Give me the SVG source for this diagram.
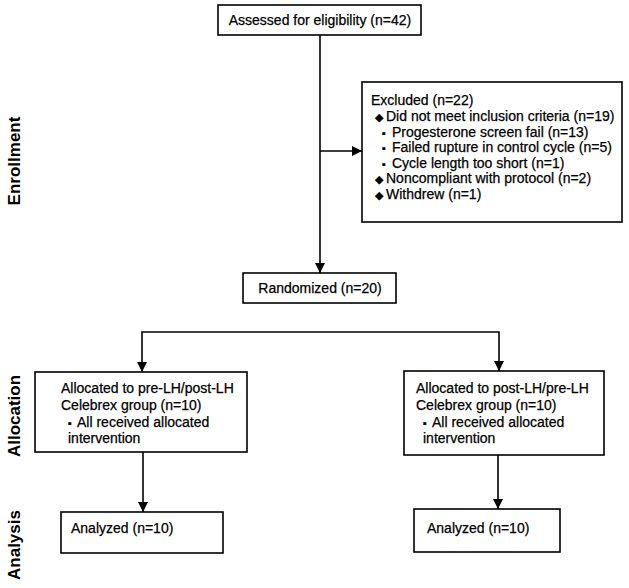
<svg xmlns="http://www.w3.org/2000/svg" width="629" height="588" viewBox="0 0 629 588">
<style>
.box{fill:#fff;stroke:#000;stroke-width:1.6}
.t{font-family:"Liberation Sans",Arial,sans-serif;font-size:14px;fill:#000;stroke:#000;stroke-width:0.25}
.lab{font-family:"Liberation Sans",Arial,sans-serif;font-size:17px;font-weight:bold;fill:#000}
.c{fill:none;stroke:#000;stroke-width:1.6}
.b{font-size:11px}
</style>
<defs>
<marker id="ar" markerUnits="userSpaceOnUse" markerWidth="10" markerHeight="12" refX="10" refY="5" orient="auto">
<path d="M0,0 L10,5 L0,10 Z" fill="#000"/>
</marker>
</defs>
<rect width="629" height="588" fill="#fff"/>
<g id="labels">
<text class="lab" transform="translate(20,161) rotate(-90)" text-anchor="middle">Enrollment</text>
<text class="lab" transform="translate(20,416) rotate(-90)" text-anchor="middle">Allocation</text>
<text class="lab" transform="translate(20,545) rotate(-90)" text-anchor="middle">Analysis</text>
</g>
<g id="connectors">
<path class="c" d="M320,35 V273" marker-end="url(#ar)"/>
<path class="c" d="M320,151 H362" marker-end="url(#ar)"/>
<path class="c" d="M320,332 H142 V372" marker-end="url(#ar)"/>
<path class="c" d="M320,332 H499 V371" marker-end="url(#ar)"/>
<path class="c" d="M143,452 V512" marker-end="url(#ar)"/>
<path class="c" d="M498,455 V509" marker-end="url(#ar)"/>
</g>
<g id="assessed">
<rect class="box" x="218" y="5" width="203" height="30"/>
<text class="t" x="320" y="25" text-anchor="middle">Assessed for eligibility (n=42)</text>
</g>
<g id="excluded">
<rect class="box" x="362" y="82" width="260" height="140"/>
<text class="t" x="371" y="105">Excluded (n=22)</text>
<text class="t" x="375" y="121"><tspan class="b">◆</tspan><tspan x="386">Did not meet inclusion criteria (n=19)</tspan></text>
<text class="t" x="382" y="136.5"><tspan class="b">▪</tspan><tspan x="392">Progesterone screen fail (n=13)</tspan></text>
<text class="t" x="382" y="152"><tspan class="b">▪</tspan><tspan x="392">Failed rupture in control cycle (n=5)</tspan></text>
<text class="t" x="382" y="167.5"><tspan class="b">▪</tspan><tspan x="392">Cycle length too short (n=1)</tspan></text>
<text class="t" x="375" y="183"><tspan class="b">◆</tspan><tspan x="386">Noncompliant with protocol (n=2)</tspan></text>
<text class="t" x="375" y="198.5"><tspan class="b">◆</tspan><tspan x="386">Withdrew (n=1)</tspan></text>
</g>
<g id="randomized">
<rect class="box" x="243" y="273" width="153" height="30"/>
<text class="t" x="320" y="293" text-anchor="middle">Randomized (n=20)</text>
</g>
<g id="alloc-left">
<rect class="box" x="35" y="372" width="212" height="80"/>
<text class="t" x="61" y="393">Allocated to pre-LH/post-LH</text>
<text class="t" x="61" y="410">Celebrex group (n=10)</text>
<text class="t" x="68" y="427"><tspan class="b">▪</tspan><tspan x="77">All received allocated</tspan></text>
<text class="t" x="68" y="443">intervention</text>
</g>
<g id="alloc-right">
<rect class="box" x="404" y="371" width="200" height="84"/>
<text class="t" x="416" y="393">Allocated to post-LH/pre-LH</text>
<text class="t" x="416" y="410">Celebrex group (n=10)</text>
<text class="t" x="423" y="427"><tspan class="b">▪</tspan><tspan x="432">All received allocated</tspan></text>
<text class="t" x="423" y="443">intervention</text>
</g>
<g id="analyzed-left">
<rect class="box" x="61" y="512" width="162" height="41"/>
<text class="t" x="71" y="533">Analyzed (n=10)</text>
</g>
<g id="analyzed-right">
<rect class="box" x="414" y="509" width="146" height="43"/>
<text class="t" x="427" y="533">Analyzed (n=10)</text>
</g>
</svg>
